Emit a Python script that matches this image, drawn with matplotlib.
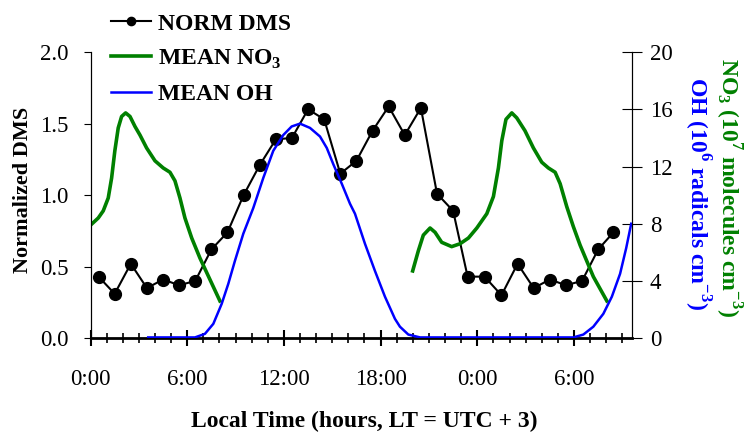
import matplotlib
matplotlib.use("Agg")
import matplotlib.pyplot as plt
from matplotlib.ticker import MultipleLocator, FixedLocator, FormatStrFormatter

plt.rcParams['font.family'] = ['Liberation Serif', 'DejaVu Serif']
plt.rcParams['mathtext.fontset'] = 'custom'
plt.rcParams['mathtext.rm'] = 'Liberation Serif'
plt.rcParams['mathtext.bf'] = 'Liberation Serif:bold'

# normalized DMS, hourly points (local time, hours)
dms_hours = [0.5, 1.5, 2.5, 3.5, 4.5, 5.5, 6.5, 7.5, 8.5, 9.5, 10.5, 11.5,
             12.5, 13.5, 14.5, 15.5, 16.5, 17.5, 18.5, 19.5, 20.5, 21.5, 22.5, 23.4,
             24.45, 25.5, 26.5, 27.5, 28.5, 29.5, 30.5, 31.5, 32.45]
dms_norm = [0.43, 0.31, 0.52, 0.35, 0.41, 0.37, 0.40, 0.62, 0.74, 1.00, 1.21, 1.39,
            1.40, 1.60, 1.53, 1.15, 1.24, 1.45, 1.62, 1.42, 1.61, 1.01, 0.89, 0.43,
            0.43, 0.30, 0.52, 0.35, 0.41, 0.37, 0.40, 0.62, 0.74]

# mean NO3 (1e7 molecules cm-3), two night segments
no3_hours_a = [0.0, 0.48, 0.79, 1.10, 1.31, 1.51, 1.72, 1.93, 2.18, 2.45, 2.76, 3.07,
               3.48, 4.00, 4.51, 4.93, 5.24, 5.55, 5.86, 6.28, 6.79, 7.41, 8.03]
no3_a = [7.9, 8.4, 8.9, 9.8, 11.2, 13.1, 14.7, 15.5, 15.75, 15.5, 14.8, 14.2,
         13.3, 12.4, 11.9, 11.6, 11.0, 9.8, 8.4, 7.0, 5.6, 4.1, 2.6]
no3_hours_b = [19.99, 20.34, 20.65, 21.07, 21.38, 21.79, 22.41, 22.93, 23.45, 23.97,
               24.59, 25.00, 25.31, 25.52, 25.78, 26.14, 26.45, 26.96, 27.48, 28.00,
               28.41, 28.83, 29.14, 29.55, 29.96, 30.38, 31.20, 32.04]
no3_b = [4.7, 6.1, 7.2, 7.7, 7.4, 6.7, 6.4, 6.6, 7.0, 7.7,
         8.7, 9.9, 11.9, 13.8, 15.3, 15.75, 15.4, 14.5, 13.3, 12.3,
         11.9, 11.6, 10.8, 9.2, 7.8, 6.5, 4.3, 2.6]

# mean OH (1e6 radicals cm-3)
oh_hours = [3.58, 5.86, 6.48, 7.10, 7.62, 8.14, 8.55, 8.96, 9.48, 10.10, 10.72, 11.34,
            11.96, 12.48, 13.00, 13.62, 14.24, 14.66, 15.07, 15.59, 16.10, 16.41, 17.03,
            17.65, 18.27, 18.89, 19.20, 19.72, 20.45, 29.96, 30.58, 31.20, 31.82, 32.35,
            32.86, 33.24, 33.55]
oh = [0.05, 0.05, 0.05, 0.3, 1.0, 2.4, 3.8, 5.4, 7.3, 9.1, 11.2, 13.1,
      14.2, 14.8, 15.0, 14.7, 14.1, 13.3, 12.15, 10.8, 9.4, 8.7, 6.6,
      4.7, 2.9, 1.35, 0.8, 0.25, 0.05, 0.05, 0.25, 0.8, 1.7, 2.9,
      4.5, 6.3, 8.0]

tick_hours = [0, 6, 12, 18, 24, 30]
tick_labels = ['0:00', '6:00', '12:00', '18:00', '0:00', '6:00']

fig = plt.figure(figsize=(7.48, 4.38), dpi=100)
ax = fig.add_axes([0.121, 0.228, 0.7235, 0.653])
ax2 = ax.twinx()

l1, = ax.plot(dms_hours, dms_norm, color='black', lw=1.5, marker='o', ms=8.5, zorder=3)
l2, = ax2.plot(no3_hours_a, no3_a, color='green', lw=2.6)
ax2.plot(no3_hours_b, no3_b, color='green', lw=2.6)
l3, = ax2.plot(oh_hours, oh, color='blue', lw=1.8)

ax.set_xlim(0, 33.58)
ax.set_ylim(0, 2.0)
ax2.set_ylim(0, 20)

ax.xaxis.set_major_locator(FixedLocator(tick_hours))
ax.set_xticklabels(tick_labels)
ax.xaxis.set_minor_locator(MultipleLocator(1))
ax.yaxis.set_major_locator(MultipleLocator(0.5))
ax.yaxis.set_major_formatter(FormatStrFormatter('%.1f'))
ax2.yaxis.set_major_locator(MultipleLocator(4))

ax.spines['top'].set_visible(False)
ax2.spines['top'].set_visible(False)
ax2.spines['bottom'].set_visible(False)
ax.spines['bottom'].set_linewidth(2)

ax.tick_params(axis='x', which='major', direction='inout', length=12, width=1.5,
               labelsize=16.5, pad=16)
ax.tick_params(axis='x', which='minor', direction='inout', length=7, width=1.2)
ax.tick_params(axis='y', direction='out', length=5, labelsize=16.5, pad=11)
ax2.tick_params(axis='y', direction='inout', length=14, labelsize=16.5, pad=6)

ax.set_ylabel('Normalized DMS', fontsize=16, fontweight='bold')
ax.yaxis.set_label_coords(-0.106, 0.52)
ax.set_xlabel('Local Time (hours, LT = UTC + 3)', fontsize=17, fontweight='bold')
ax.xaxis.set_label_coords(0.505, -0.255)

fig.text(0.973, 0.571, r'NO$_\mathbf{3}$ (10$^\mathbf{7}$ molecules cm$^\mathbf{-3}$)',
         rotation=270, color='green', fontsize=17, fontweight='bold', ha='center', va='center')
fig.text(0.932, 0.558, r'OH (10$^\mathbf{6}$ radicals cm$^\mathbf{-3}$)',
         rotation=270, color='blue', fontsize=17, fontweight='bold', ha='center', va='center')

fig.legend([l1, l2, l3], ['NORM DMS', r'MEAN NO$_\mathbf{3}$', 'MEAN OH'],
           loc='upper left', bbox_to_anchor=(0.148, 0.97), frameon=False,
           prop={'weight': 'bold', 'size': 17}, handlelength=1.7, handletextpad=0.3,
           labelspacing=0.55, borderpad=0, borderaxespad=0, markerscale=0.7)

fig.savefig('out.png', dpi=100)
